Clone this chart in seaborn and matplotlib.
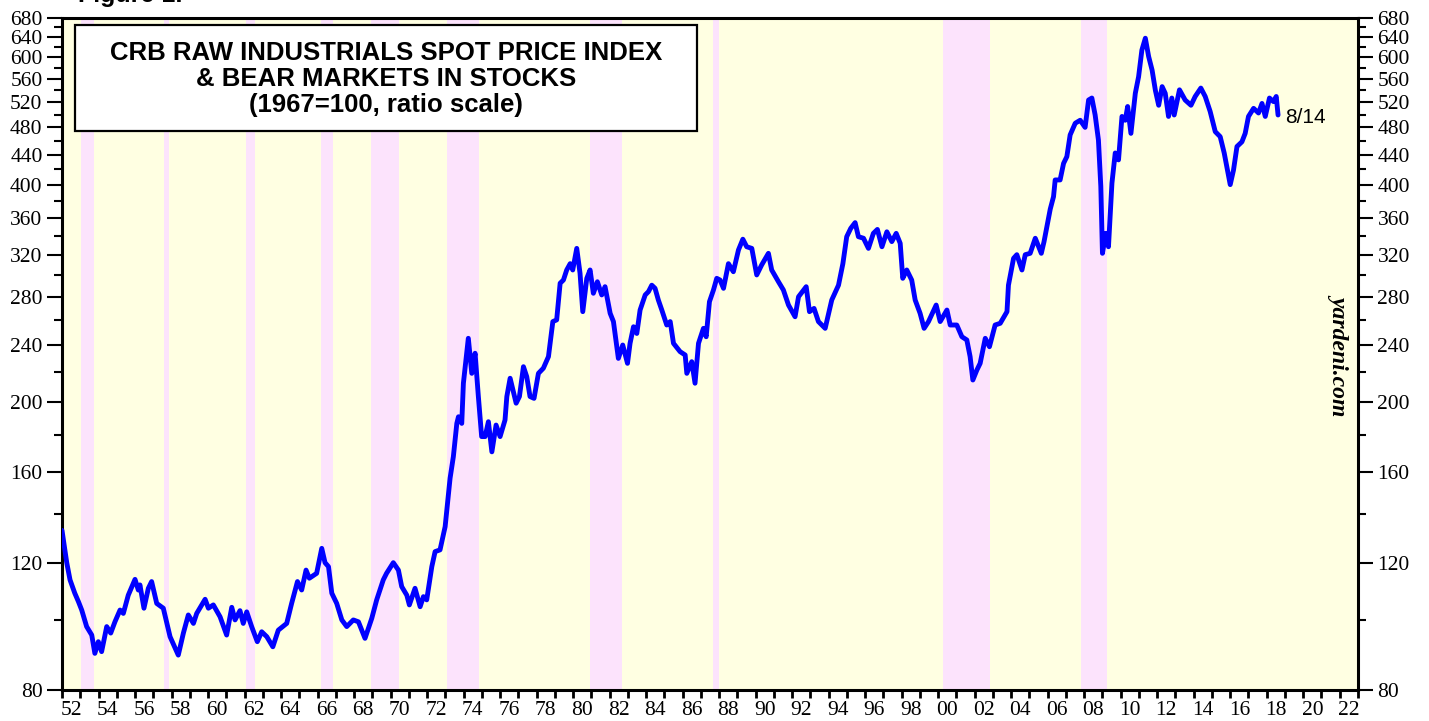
import pandas as pd
import matplotlib.pyplot as plt
import matplotlib.ticker as mticker
from matplotlib.patches import Rectangle
import seaborn as sns

# CRB raw industrials spot price index (1967=100)
years = [
    1952.00, 1952.26, 1952.44, 1952.70, 1952.90, 1953.08, 1953.35, 1953.63, 1953.80, 1953.99,
    1954.17, 1954.45, 1954.67, 1954.90, 1955.18, 1955.36, 1955.63, 1956.00, 1956.18, 1956.27,
    1956.49, 1956.73, 1956.91, 1957.19, 1957.55, 1957.92, 1958.37, 1958.65, 1958.92, 1959.20,
    1959.38, 1959.84, 1960.02, 1960.29, 1960.66, 1961.02, 1961.30, 1961.48, 1961.75, 1961.93,
    1962.12, 1962.39, 1962.70, 1962.94, 1963.22, 1963.55, 1963.85, 1964.31, 1964.58, 1964.90,
    1965.13, 1965.37, 1965.55, 1965.95, 1966.23, 1966.41, 1966.60, 1966.78, 1967.05, 1967.33,
    1967.60, 1967.96, 1968.24, 1968.60, 1968.97, 1969.24, 1969.60, 1969.78, 1970.15, 1970.43,
    1970.61, 1970.89, 1971.03, 1971.34, 1971.62, 1971.80, 1971.98, 1972.26, 1972.44, 1972.71,
    1972.99, 1973.26, 1973.44, 1973.63, 1973.72, 1973.90, 1973.99, 1974.26, 1974.45, 1974.63,
    1974.81, 1974.99, 1975.18, 1975.36, 1975.55, 1975.78, 1976.00, 1976.27, 1976.37, 1976.55,
    1976.88, 1977.06, 1977.28, 1977.46, 1977.64, 1977.86, 1978.10, 1978.37, 1978.65, 1978.89,
    1979.10, 1979.29, 1979.47, 1979.65, 1979.84, 1979.98, 1980.20, 1980.38, 1980.53, 1980.75,
    1980.93, 1981.11, 1981.33, 1981.57, 1981.75, 1982.03, 1982.21, 1982.48, 1982.72, 1982.98,
    1983.12, 1983.31, 1983.49, 1983.67, 1983.95, 1984.13, 1984.31, 1984.49, 1984.67, 1984.86,
    1985.13, 1985.32, 1985.50, 1985.86, 1986.14, 1986.23, 1986.50, 1986.68, 1986.87, 1987.14,
    1987.29, 1987.47, 1987.69, 1987.87, 1988.05, 1988.24, 1988.51, 1988.78, 1989.06, 1989.30,
    1989.51, 1989.79, 1990.06, 1990.33, 1990.70, 1990.88, 1991.25, 1991.52, 1991.80, 1992.16,
    1992.35, 1992.77, 1992.95, 1993.20, 1993.44, 1993.81, 1994.17, 1994.54, 1994.78, 1994.99,
    1995.21, 1995.45, 1995.63, 1995.91, 1996.18, 1996.45, 1996.67, 1996.92, 1997.19, 1997.46,
    1997.70, 1997.92, 1998.06, 1998.28, 1998.55, 1998.74, 1999.01, 1999.23, 1999.47, 1999.89,
    2000.11, 2000.48, 2000.66, 2001.02, 2001.30, 2001.57, 2001.75, 2001.90, 2002.12, 2002.30,
    2002.58, 2002.81, 2003.12, 2003.40, 2003.77, 2003.85, 2004.13, 2004.31, 2004.59, 2004.77,
    2005.04, 2005.32, 2005.65, 2005.80, 2005.96, 2006.14, 2006.32, 2006.41, 2006.68, 2006.87,
    2007.05, 2007.23, 2007.51, 2007.78, 2008.05, 2008.24, 2008.42, 2008.60, 2008.78, 2008.91,
    2009.00, 2009.18, 2009.33, 2009.52, 2009.70, 2009.88, 2010.07, 2010.25, 2010.38, 2010.56,
    2010.80, 2010.98, 2011.16, 2011.35, 2011.53, 2011.72, 2011.90, 2012.08, 2012.27, 2012.44,
    2012.62, 2012.80, 2012.93, 2013.22, 2013.53, 2013.85, 2014.08, 2014.39, 2014.63, 2014.90,
    2015.18, 2015.45, 2015.67, 2015.85, 2016.00, 2016.18, 2016.37, 2016.64, 2016.82, 2017.00,
    2017.28, 2017.55, 2017.74, 2017.92, 2018.15, 2018.37, 2018.52, 2018.62,
]
crb = [
    133, 120, 113.6, 108.9, 106, 103.2, 97.9, 95.3, 89.9, 93.3,
    90.4, 97.9, 95.9, 99.4, 103.2, 102.1, 108.2, 113.8, 110, 111.8,
    103.8, 110.6, 113, 105.4, 103.8, 94.8, 89.4, 95.9, 101.6, 98.9,
    102.1, 106.8, 103.8, 104.9, 101, 95.3, 104.1, 100, 103, 98.9,
    102.6, 97.9, 93.3, 96.3, 94.8, 91.8, 96.8, 98.9, 105.4, 113,
    110, 117.2, 114.2, 116, 125.6, 120, 118.5, 108.9, 105.4, 100,
    97.9, 100, 99.4, 94.3, 100.5, 106.6, 113.6, 116, 120, 117.2,
    111.2, 108.2, 104.9, 110.6, 104.3, 107.7, 106.6, 118.5, 124.3, 125,
    134.6, 157, 168.2, 187, 191, 187, 212.5, 245.2, 219.3, 233.8,
    203.7, 179.3, 179.3, 188, 170.8, 186, 179.3, 189, 203.7, 215.9,
    199.4, 203.7, 224, 217, 203.7, 202.5, 219.3, 222.9, 231.3, 258.6,
    260, 292.2, 295.2, 304.8, 311, 304.8, 326.5, 301.6, 266.9, 296.8,
    304.8, 283, 293.6, 281.5, 289, 265.5, 258.6, 230, 240, 226.4,
    241.3, 254.4, 249, 268.3, 281.5, 284.5, 290.4, 287.5, 277, 268.3,
    255.8, 258.6, 241.3, 235, 232.5, 219.3, 227.6, 212.5, 241.3, 253.1,
    246.4, 275.5, 286, 296.8, 295.2, 287.5, 311, 303.1, 324.9, 336.2,
    328.2, 326.5, 300, 309.7, 321.4, 304.8, 293.6, 286, 272.6, 262.6,
    279.9, 289, 266.9, 269.7, 258.6, 253.1, 277, 290.4, 311, 338.9,
    348, 354.4, 338.9, 337.2, 326.5, 342.5, 346.8, 328.2, 344.2, 333.6,
    342.5, 331.8, 296.8, 304.8, 295.2, 277, 265.5, 253.1, 258.6, 272.6,
    258.6, 268.3, 255.8, 255.8, 246.4, 243.9, 231.3, 214.7, 221.6, 226.4,
    245.2, 238.7, 255.8, 257.2, 266.9, 290.4, 316.3, 320, 304.8, 320,
    321.4, 337.2, 321.4, 333.6, 350, 370, 385, 406, 406, 428,
    437.3, 468.6, 486.4, 491, 480, 523.7, 527, 499.3, 461, 397.8,
    321.4, 342.5, 328.2, 402, 442.4, 432.8, 497, 491, 513, 470.9,
    535, 564, 614, 637.6, 601.6, 576, 540, 515, 546.5, 535,
    497, 527, 499.3, 541, 523.7, 515, 529.6, 544, 529.6, 505,
    473.5, 466, 442.4, 419, 400, 419, 451.6, 458.4, 470.9, 497,
    510, 502.5, 518, 497, 527, 521, 529.6, 499.3,
]

# bear markets in stocks (start, end as fractional years)
bear_start = [1953.04, 1957.60, 1962.08, 1966.19, 1968.93, 1973.10, 1980.93, 1987.67, 2000.27, 2007.84]
bear_end = [1953.75, 1957.86, 1962.58, 1966.85, 1970.47, 1974.85, 1982.68, 1987.98, 2002.85, 2009.26]

y_major = [80, 120, 160, 200, 240, 280, 320, 360, 400, 440, 480, 520, 560, 600, 640, 680]
y_minor = [100, 140, 180, 220, 260, 300, 340, 380, 420, 460, 500, 540, 580, 620, 660]
x_label_years = list(range(1952, 2023, 2))
x_labels = ['%02d' % (y % 100) for y in x_label_years]

sns.set_style('ticks')
plt.rcParams['font.family'] = ['Liberation Serif', 'DejaVu Serif']
plt.rcParams['text.color'] = 'black'
plt.rcParams['xtick.color'] = 'black'
plt.rcParams['ytick.color'] = 'black'

fig = plt.figure(figsize=(14.29, 7.21), dpi=100)
ax = fig.add_axes([62 / 1429, 31 / 721, 1296 / 1429, 672 / 721])
ax.set_facecolor('#FFFFE2')

for s, e in zip(bear_start, bear_end):
    ax.axvspan(s, e, color='#FCE3FC', lw=0, zorder=1)

df = pd.DataFrame({'year': years, 'crb': crb})
sns.lineplot(data=df, x='year', y='crb', color='#0000FF', linewidth=3.5, ax=ax, zorder=3)

ax.set_yscale('log')
ax.set_ylim(80, 680)
ax.set_xlim(1952, 2023)
ax.set_xlabel('')
ax.set_ylabel('')

ax.yaxis.set_major_locator(mticker.FixedLocator(y_major))
ax.yaxis.set_major_formatter(mticker.FixedFormatter([str(v) for v in y_major]))
ax.yaxis.set_minor_locator(mticker.FixedLocator(y_minor))
ax.yaxis.set_minor_formatter(mticker.NullFormatter())

ax.xaxis.set_major_locator(mticker.FixedLocator(range(1952, 2024)))
ax.xaxis.set_major_formatter(mticker.NullFormatter())
ax.xaxis.set_minor_locator(mticker.FixedLocator([y + 0.5 for y in x_label_years]))
ax.xaxis.set_minor_formatter(mticker.FixedFormatter(x_labels))

ax.tick_params(axis='y', which='major', length=11, width=1.5, left=True, right=True,
               labelleft=True, labelright=True, labelsize=15.5, pad=3, colors='black')
ax.tick_params(axis='y', which='minor', length=6, width=1.5, left=True, right=True, colors='black')
ax.tick_params(axis='x', which='major', length=6, width=2, bottom=True, top=False, colors='black')
ax.tick_params(axis='x', which='minor', length=0, labelsize=15.5, pad=8, colors='black')

for sp in ax.spines.values():
    sp.set_visible(True)
    sp.set_linewidth(2.2)
    sp.set_color('black')

# title box
ax.add_patch(Rectangle((0.010, 0.832), 0.480, 0.158, transform=ax.transAxes,
                       facecolor='white', edgecolor='black', lw=1.6, zorder=5))
ax.text(0.25, 0.909, 'CRB RAW INDUSTRIALS SPOT PRICE INDEX\n& BEAR MARKETS IN STOCKS\n(1967=100, ratio scale)',
        transform=ax.transAxes, ha='center', va='center', fontsize=18.5, fontweight='bold',
        family='Liberation Sans', linespacing=1.1, color='black', zorder=6)

ax.annotate('8/14', xy=(years[-1], crb[-1]), xytext=(5, -2), textcoords='offset points',
            ha='left', va='center', fontsize=15, family='Liberation Sans', color='black')

ax.text(0.986, 0.5, 'yardeni.com', transform=ax.transAxes, rotation=-90, ha='center', va='center',
        fontsize=17, fontweight='bold', style='italic', color='black')

fig.text(78 / 1429, 1 - 2 / 721, 'Figure 1.', fontsize=18, fontweight='bold',
         family='Liberation Sans', va='baseline', color='black')

plt.savefig('out.png', dpi=100)
